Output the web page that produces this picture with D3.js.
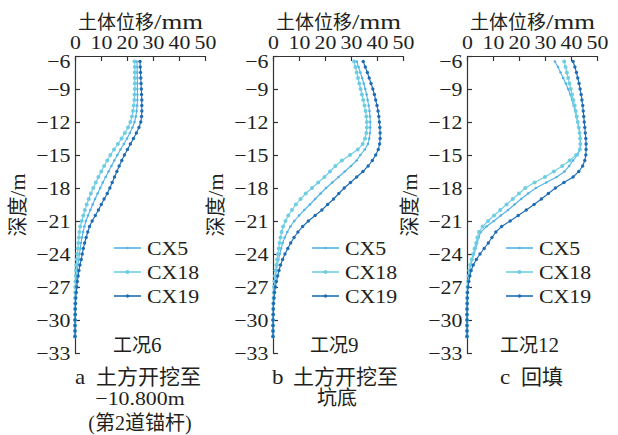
<!DOCTYPE html>
<html>
<head>
<meta charset="utf-8">
<script src="https://cdn.jsdelivr.net/npm/d3@7"></script>
<style>
  body { margin: 0; background: #fff; }
  text { font-family: "Liberation Serif", "Noto Sans CJK SC", serif; fill: #231f20; }
</style>
</head>
<body>
<svg id="chart" width="618" height="435"></svg>
<script>
// depth of each inclinometer reading (m)
const depth = [-6.5, -7, -7.5, -8, -8.5, -9, -9.5, -10, -10.5, -11,
  -11.5, -12, -12.5, -13, -13.5, -14, -14.5, -15, -15.5, -16,
  -16.5, -17, -17.5, -18, -18.5, -19, -19.5, -20, -20.5, -21,
  -21.5, -22, -22.5, -23, -23.5, -24, -24.5, -25, -25.5, -26,
  -26.5, -27, -27.5, -28, -28.5, -29, -29.5, -30, -30.5, -31, -31.5];

const seriesNames = ["CX5", "CX18", "CX19"];
const xTicks = [0, 10, 20, 30, 40, 50];
const yTicks = [-6, -9, -12, -15, -18, -21, -24, -27, -30, -33];
const conditions = [["工况", "6"], ["工况", "9"], ["工况", "12"]];
const captionLetters = ["a", "b", "c"];
const captionLines = [["土方开挖至", "−10.800m", "(第2道锚杆)"], ["土方开挖至", "坑底"], ["回填"]];

// 工况6
const cx5_6 = [23.8, 23.9, 23.9, 24.0, 24.0, 24.0, 24.0, 24.0, 23.9, 23.7,
  23.4, 22.9, 22.1, 21.1, 20.0, 18.8, 17.5, 16.3, 15.1, 14.0,
  12.9, 11.8, 10.7, 9.7, 8.7, 7.7, 6.8, 5.9, 5.0, 4.2,
  3.6, 3.1, 2.7, 2.3, 2.0, 1.7, 1.4, 1.1, 0.9, 0.7,
  0.5, 0.3, 0.2, 0.1, 0.1, 0.0, 0.0, 0.0, 0.0, 0.0, 0.0];
const cx18_6 = [22.9, 23.0, 23.0, 23.0, 23.0, 23.0, 22.9, 22.8, 22.6, 22.3,
  21.9, 21.3, 20.4, 19.2, 17.9, 16.5, 15.0, 13.6, 12.4, 11.2,
  10.1, 9.0, 8.0, 7.0, 6.1, 5.3, 4.5, 3.8, 3.2, 2.6,
  2.0, 1.7, 1.5, 1.3, 1.1, 0.9, 0.7, 0.5, 0.4, 0.3,
  0.2, 0.1, 0.1, 0.0, 0.0, 0.0, 0.0, 0.0, 0.0, 0.0, 0.0];
const cx19_6 = [25.0, 25.1, 25.2, 25.3, 25.4, 25.5, 25.6, 25.7, 25.7, 25.7,
  25.6, 25.3, 24.6, 23.6, 22.5, 21.3, 20.2, 19.0, 18.0, 17.0,
  16.1, 15.2, 14.3, 13.4, 12.4, 11.2, 10.1, 9.0, 7.8, 6.6,
  5.6, 4.9, 4.3, 3.7, 3.2, 2.8, 2.4, 1.9, 1.5, 1.2,
  0.9, 0.7, 0.5, 0.3, 0.2, 0.1, 0.1, 0.0, 0.0, 0.0, 0.0];

// 工况9
const cx5_9 = [32.2, 32.9, 33.6, 34.3, 34.9, 35.5, 36.0, 36.4, 36.8, 37.1,
  37.3, 37.4, 37.4, 37.3, 37.0, 36.5, 35.3, 33.6, 32.2, 30.0,
  27.6, 25.2, 22.8, 20.4, 18.3, 16.2, 14.2, 12.0, 10.0, 8.2,
  6.7, 5.5, 4.5, 3.7, 3.1, 2.6, 2.1, 1.7, 1.3, 1.0,
  0.7, 0.5, 0.3, 0.2, 0.1, 0.1, 0.0, 0.0, 0.0, 0.0, 0.0];
const cx18_9 = [31.2, 31.7, 32.2, 32.7, 33.2, 33.7, 34.2, 34.7, 35.2, 35.6,
  35.9, 36.1, 36.1, 35.9, 35.4, 34.5, 32.6, 29.6, 26.5, 24.0,
  21.9, 19.8, 17.4, 15.0, 12.6, 10.6, 8.8, 7.3, 5.9, 4.8,
  3.9, 3.3, 2.9, 2.5, 2.2, 1.9, 1.6, 1.3, 1.0, 0.8,
  0.6, 0.4, 0.3, 0.2, 0.1, 0.1, 0.0, 0.0, 0.0, 0.0, 0.0];
const cx19_9 = [34.7, 35.5, 36.3, 37.0, 37.7, 38.4, 39.0, 39.5, 40.0, 40.4,
  40.7, 40.9, 41.1, 41.2, 41.2, 41.0, 40.5, 39.5, 38.2, 36.6,
  34.6, 32.2, 29.8, 27.4, 25.3, 23.3, 21.0, 18.8, 16.2, 13.6,
  11.4, 9.6, 8.1, 6.8, 5.7, 4.6, 3.7, 2.9, 2.3, 1.8,
  1.3, 0.9, 0.6, 0.4, 0.2, 0.1, 0.1, 0.0, 0.0, 0.0, 0.0];

// 工况12
const cx5_12 = [33.8, 35.0, 36.0, 37.0, 38.0, 38.9, 39.7, 40.4, 41.0, 41.6,
  42.1, 42.6, 43.0, 43.4, 43.6, 43.7, 43.5, 42.5, 40.8, 39.3,
  37.5, 34.5, 30.5, 26.5, 23.5, 20.8, 18.3, 15.8, 13.0, 10.3,
  7.5, 5.3, 4.5, 3.9, 3.3, 2.7, 2.0, 1.4, 1.0, 0.6,
  0.4, 0.2, 0.1, 0.1, 0.0, 0.0, 0.0, 0.0, 0.0, 0.0, 0.0];
const cx18_12 = [37.4, 37.9, 38.4, 38.9, 39.4, 39.9, 40.4, 40.9, 41.4, 41.8,
  42.2, 42.6, 43.0, 43.3, 43.5, 43.6, 43.4, 42.0, 39.5, 36.6,
  33.4, 30.0, 26.0, 22.4, 20.0, 17.6, 15.2, 12.8, 10.4, 8.1,
  6.0, 4.6, 4.0, 3.5, 2.9, 2.4, 1.8, 1.2, 0.9, 0.6,
  0.4, 0.2, 0.1, 0.1, 0.0, 0.0, 0.0, 0.0, 0.0, 0.0, 0.0];
const cx19_12 = [40.8, 41.5, 42.1, 42.6, 43.1, 43.5, 43.9, 44.2, 44.5, 44.7,
  44.9, 45.1, 45.3, 45.5, 45.7, 45.8, 45.8, 45.7, 45.3, 44.5,
  43.0, 40.8, 37.3, 34.0, 31.3, 28.6, 25.8, 22.8, 19.7, 16.6,
  13.3, 11.1, 9.6, 8.2, 6.6, 5.0, 3.6, 2.4, 1.6, 1.1,
  0.7, 0.4, 0.2, 0.1, 0.1, 0.0, 0.0, 0.0, 0.0, 0.0, 0.0];

const panelData = [[cx5_6, cx18_6, cx19_6], [cx5_9, cx18_9, cx19_9], [cx5_12, cx18_12, cx19_12]];

// styles
const colors = ["#52b2e6", "#6fcde2", "#1e6db4"];
const radius = [1.3, 2.0, 1.7];
const stretch = 1.15;   // latin text in the source is a little wide
const plotTop = 56, plotBottom = 353, plotW = 130;
const lefts = [75, 273, 467];

const svg = d3.select("#chart");

const y = d3.scaleLinear().domain([-6, -33]).range([plotTop, plotBottom]);

// latin text drawn slightly wide, like the source
function wideText(parent, x, yy, str, size, anchor) {
  return parent.append("g").attr("transform", "translate(" + x + "," + yy + ")")
    .append("text").attr("font-size", size).attr("text-anchor", anchor || "start")
    .attr("transform", "scale(" + stretch + ",1)").text(str);
}

lefts.forEach((left, p) => {
  const x = d3.scaleLinear().domain([0, 50]).range([left, left + plotW]);
  const g = svg.append("g");

  // top axis, ticks pointing down
  const gx = g.append("g")
    .attr("transform", "translate(0," + plotTop + ")")
    .call(d3.axisTop(x).tickValues(xTicks).tickSizeInner(-5).tickSizeOuter(0).tickPadding(7));
  // left axis, ticks pointing right
  const gy = g.append("g")
    .attr("transform", "translate(" + left + ",0)")
    .call(d3.axisLeft(y).tickValues(yTicks).tickSizeInner(-5).tickSizeOuter(0).tickPadding(4)
      .tickFormat(d => String(d).replace("-", "−")));

  [gx, gy].forEach(a => {
    a.select(".domain").attr("stroke", "#333").attr("stroke-width", 1.2);
    a.selectAll(".tick line").attr("stroke", "#333").attr("stroke-width", 1.2);
    a.selectAll(".tick text")
      .attr("font-family", null)
      .attr("font-size", 19)
      .attr("transform", "scale(" + stretch + ",1)");
  });
  gy.selectAll(".tick text").filter(d => d === -6).attr("dy", "0.6em");

  // axis titles
  const tx = left + plotW / 2 - 62;
  g.append("text").attr("x", tx).attr("y", 29).attr("font-size", 19).text("土体位移");
  g.append("text").attr("x", tx + 76).attr("y", 29).attr("font-size", 20)
    .attr("textLength", 49).attr("lengthAdjust", "spacingAndGlyphs").text("/mm");
  const yl = g.append("text")
    .attr("transform", "translate(" + (left - 50) + ",205) rotate(-90)")
    .attr("text-anchor", "middle").attr("font-size", 20);
  yl.append("tspan").text("深度");
  yl.append("tspan").attr("font-size", 22).text("/m");

  // series
  const line = d3.line().x(d => x(d[0])).y(d => y(d[1]));
  panelData[p].forEach((vals, s) => {
    const pts = vals.map((v, i) => [v, depth[i]]);
    g.append("path").datum(pts)
      .attr("d", line).attr("fill", "none")
      .attr("stroke", colors[s]).attr("stroke-width", 1.1);
    g.append("g").selectAll("circle").data(pts).join("circle")
      .attr("cx", d => x(d[0])).attr("cy", d => y(d[1]))
      .attr("r", radius[s]).attr("fill", colors[s]);
  });

  // legend
  const lx = left + 39;
  seriesNames.forEach((name, s) => {
    const ly = 248 + s * 24;
    g.append("line").attr("x1", lx).attr("x2", lx + 27).attr("y1", ly).attr("y2", ly)
      .attr("stroke", colors[s]).attr("stroke-width", 1.6);
    g.append("circle").attr("cx", lx + 13.5).attr("cy", ly).attr("r", radius[s]).attr("fill", colors[s]);
    wideText(g, lx + 33, ly + 6.5, name, 19);
  });

  // condition label
  const condX = [113, 310, 500][p];
  const ct = g.append("text").attr("x", condX).attr("y", 352).attr("font-size", 19);
  ct.append("tspan").text(conditions[p][0]);
  ct.append("tspan").attr("font-size", 21).text(conditions[p][1]);

  // caption
  const capX = [75, 272, 500][p];
  wideText(g, capX, 384, captionLetters[p], 20);
  g.append("text").attr("x", capX + 21).attr("y", 384).attr("font-size", 21).text(captionLines[p][0]);
  const cx = capX + [65, 65, 40][p];
  captionLines[p].slice(1).forEach((t, k) => {
    if (/^[−\d.m]+$/.test(t)) {
      wideText(g, cx, 405 + k * 25, t, 19, "middle");
    } else {
      g.append("text").attr("x", cx).attr("y", 405 + k * 25)
        .attr("text-anchor", "middle").attr("font-size", 20).text(t);
    }
  });
});
</script>
</body>
</html>
